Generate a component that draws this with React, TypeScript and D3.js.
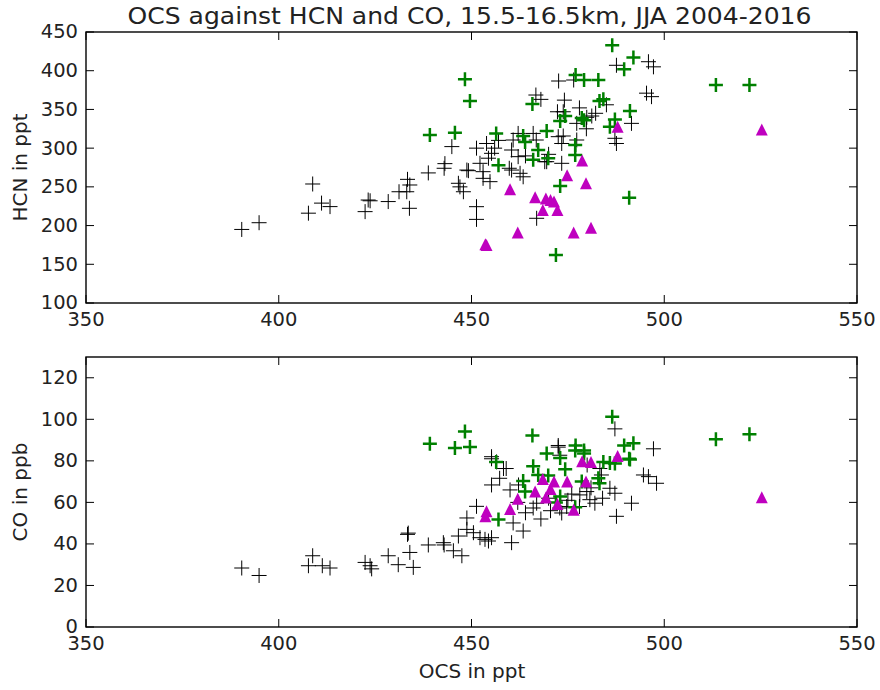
import React from "react";
import * as d3 from "d3";

// ---- Data ----
// Green "+" (ocs, hcn, co)
const greenOcs = [486.5, 492, 489.6, 448.3, 449.6, 477, 479.2, 482.9, 483.2, 484.2, 465.8, 491.1, 474.3, 473, 478.6, 479.2, 487.2, 485.9, 445.7, 439.2, 456.4, 463.4, 463.9, 469.5, 467.3, 466, 469.9, 476.9, 476.9, 457, 473, 490.9, 471.9, 513.4, 522.1];
const greenHcn = [433, 417, 402, 389, 361, 394.5, 388, 388, 361, 363, 357, 348, 341.5, 335, 339, 336, 337, 327.7, 320, 317, 319, 315.7, 308, 322, 297.6, 285, 287, 304, 291, 278, 251, 236, 162, 381.6, 381.6];
const greenCo = [101.2, 88.5, 87.4, 94.1, 86.7, 87.4, 83.5, 71.6, 69.2, 79.5, 92.2, 80.6, 76, 81.4, 70, 85, 78.7, 79, 86.2, 88.2, 79.5, 70.3, 65.2, 83.5, 73.2, 77.4, 73, 85, 57.6, 51.8, 62.8, 81, 60, 90.4, 92.8];

// Magenta triangles (ocs, hcn, co)
const magentaOcs = [453.9, 453.6, 460, 462, 466.5, 468.5, 469.3, 470.5, 471.4, 472.3, 474.8, 476.5, 478.7, 479.7, 481, 487.9, 525.3];
const magentaHcn = [175, 176, 247, 191, 236.5, 220, 235, 233, 231, 220, 265, 191, 284, 254.6, 197.3, 327.7, 324];
const magentaCo = [55.7, 53.3, 56.8, 61.7, 65.2, 71.3, 62.4, 66.5, 70, 59.2, 70, 56.5, 79.8, 70, 79.5, 82.3, 62.5];

// Black "+" in HCN panel: [ocs, hcn]
const blackHcn: [number, number][] = [
  [390.4, 195], [394.9, 203.7], [408.8, 253.7], [407.7, 216], [411.1, 229], [413.3, 224.5],
  [422.4, 218], [423.7, 232], [423.2, 233], [428.4, 231], [431.2, 243.7], [433.4, 259.7],
  [434, 252.4], [433.2, 243.7], [433.9, 222.3], [438.8, 268], [442.9, 274],
  [472.6, 386.7], [476.5, 388], [487.6, 407], [495.9, 411.6], [497.2, 405], [495.4, 371], [496.7, 366.5],
  [466.7, 368.6], [474.1, 362], [472.3, 347], [473.8, 347], [479.9, 339.8], [481.2, 341.5], [482.2, 345],
  [477.3, 332], [491.5, 332], [487.2, 312.7], [487.6, 306], [472.5, 314.8], [473.8, 315.7], [473.4, 306],
  [477.3, 310.5], [466, 319], [466.8, 310.5], [462.1, 319], [460.8, 310.5], [451.3, 300], [453.9, 306],
  [455.2, 293.3], [454.4, 287], [460.4, 297.6], [462.1, 289], [444.9, 302], [453, 269.6], [443.1, 280],
  [448.8, 271.7], [469.5, 282.5], [473.4, 280.4], [459.8, 274], [462.6, 267.5],
  [449.2, 270.9], [452.2, 280.4], [447, 250], [447.9, 243.7], [446.6, 254.6], [453, 261], [454.8, 256.7],
  [451.3, 224.4], [451.3, 208], [463.4, 263], [460.4, 271.7], [466.9, 209.4], [469, 282.5], [456, 300],
  [479.8, 325], [485, 356], [478, 352], [468, 363], [457, 310], [464, 290], [470, 292],
];

// Black "+" in CO panel: [ocs, co]
const blackCo: [number, number][] = [
  [390.4, 28.4], [394.9, 24.8], [408.8, 34.3], [407.7, 29.5], [411.3, 29.5], [413.3, 28.4],
  [422.4, 31.1], [423.7, 29.5], [424.1, 28], [428.4, 34.3], [431, 30], [433.4, 44.6], [433.6, 45.2], [434, 35.9],
  [434.9, 28.7], [438.8, 39.5], [442.9, 39.5], [442.7, 40.6], [445.3, 36.7], [447.5, 34.3],
  [446.6, 43.8], [448.8, 47], [450.5, 45.4], [452.2, 43], [453.5, 42.2], [455.2, 43], [454.4, 41.4],
  [451.3, 58.1], [448.8, 52.5], [455.2, 81], [456.5, 79.5], [458.3, 76.3], [457.3, 71.6], [455.2, 68.4],
  [460, 66], [462.2, 68.4], [460.8, 50.1], [463.4, 46.2], [460.4, 40.6], [466, 57.3], [466.9, 59.6],
  [472.9, 57.3], [473.4, 54.9], [474.7, 58], [472.5, 86.6], [472.9, 82.7], [478.1, 63.6], [479.9, 65.2],
  [480.7, 61.3], [482, 59.6], [485.9, 66.8], [487.2, 64.4], [483.3, 76.3], [483.7, 73.2], [487.6, 53.3],
  [491.5, 59.6], [494.6, 73.2], [495.9, 72.4], [498, 69.2], [497.2, 85.8], [487.2, 95.4], [472.5, 87.4],
  [459, 76.3], [455.2, 82], [470, 62], [476, 64], [481, 67], [464, 55], [468, 52], [475, 61], [478, 58],
  [462, 60], [470.5, 56], [484, 62], [480, 78],
];

const xTicks = [350, 400, 450, 500, 550];
const hcnTicks = [100, 150, 200, 250, 300, 350, 400, 450];
const coTicks = [0, 20, 40, 60, 80, 100, 120];

const W = 880;
const H = 690;
const left = 86;
const right = 857;
const FONT = "DejaVu Sans, sans-serif";
const TICK_FS = 19.5;
const LABEL_FS = 20;

const plusPath = (s: number) => `M${-s},0H${s}M0,${-s}V${s}`;
const triPath = (s: number) => `M0,${-s}L${s},${s}L${-s},${s}Z`;

function Panel({
  top, bottom, yDomain, yTicks, yLabel, blacks, gY, mY,
}: {
  top: number; bottom: number; yDomain: [number, number]; yTicks: number[]; yLabel: string;
  blacks: [number, number][]; gY: number[]; mY: number[];
}) {
  const x = d3.scaleLinear().domain([350, 550]).range([left, right]);
  const y = d3.scaleLinear().domain(yDomain).range([bottom, top]);
  const tl = 8;
  return (
    <g>
      <defs>
        <clipPath id={`clip${top}`}>
          <rect x={left} y={top} width={right - left} height={bottom - top} />
        </clipPath>
      </defs>
      <g clipPath={`url(#clip${top})`}>
        {blacks.map((d, i) => (
          <path key={"b" + i} d={plusPath(7.5)} transform={`translate(${x(d[0])},${y(d[1])})`} stroke="#000" strokeWidth={1} fill="none" />
        ))}
        {greenOcs.map((o, i) => (
          <path key={"g" + i} d={plusPath(7)} transform={`translate(${x(o)},${y(gY[i])})`} stroke="#008000" strokeWidth={2.5} fill="none" />
        ))}
        {magentaOcs.map((o, i) => (
          <path key={"m" + i} d={triPath(6)} transform={`translate(${x(o)},${y(mY[i])})`} fill="#bf00bf" stroke="none" />
        ))}
      </g>
      <rect x={left} y={top} width={right - left} height={bottom - top} fill="none" stroke="#000" strokeWidth={1.4} />
      {xTicks.map((t) => (
        <g key={"xt" + t}>
          <line x1={x(t)} x2={x(t)} y1={bottom} y2={bottom - tl} stroke="#000" />
          <line x1={x(t)} x2={x(t)} y1={top} y2={top + tl} stroke="#000" />
          <text x={x(t)} y={bottom + 23} textAnchor="middle" fontSize={TICK_FS} fontFamily={FONT} fill="#222">{t}</text>
        </g>
      ))}
      {yTicks.map((t) => (
        <g key={"yt" + t}>
          <line x1={left} x2={left + tl} y1={y(t)} y2={y(t)} stroke="#000" />
          <line x1={right} x2={right - tl} y1={y(t)} y2={y(t)} stroke="#000" />
          <text x={78} y={y(t)} dy="0.33em" textAnchor="end" fontSize={TICK_FS} fontFamily={FONT} fill="#222">{t}</text>
        </g>
      ))}
      <text transform={`translate(27,${(top + bottom) / 2}) rotate(-90)`} textAnchor="middle" fontSize={LABEL_FS} fontFamily={FONT} fill="#222">{yLabel}</text>
    </g>
  );
}

export default function App() {
  return (
    <svg width={W} height={H} style={{ position: "absolute", left: 0, top: 0, background: "#fff" }}>
      <rect width={W} height={H} fill="#fff" />
      <text x={469.5} y={24} textAnchor="middle" fontSize={23} textLength={684} lengthAdjust="spacingAndGlyphs" fontFamily={FONT} fill="#222">
        OCS against HCN and CO, 15.5-16.5km, JJA 2004-2016
      </text>
      <Panel top={32} bottom={303} yDomain={[100, 450]} yTicks={hcnTicks} yLabel="HCN in ppt" blacks={blackHcn} gY={greenHcn} mY={magentaHcn} />
      <Panel top={357} bottom={627} yDomain={[0, 130]} yTicks={coTicks} yLabel="CO in ppb" blacks={blackCo} gY={greenCo} mY={magentaCo} />
      <text x={472} y={678} textAnchor="middle" fontSize={LABEL_FS} fontFamily={FONT} fill="#222">OCS in ppt</text>
    </svg>
  );
}
